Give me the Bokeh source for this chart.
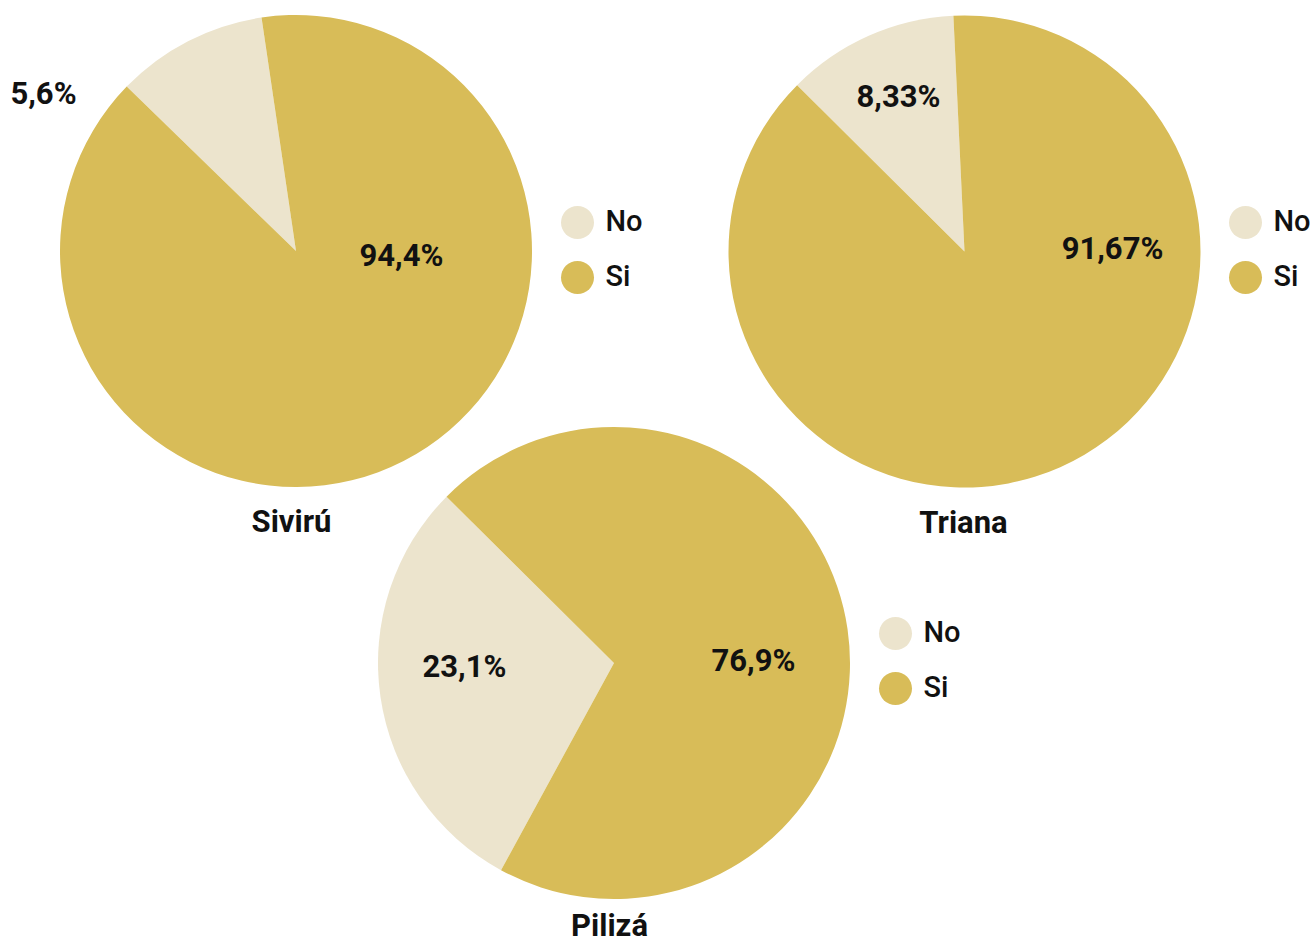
import math
from bokeh.plotting import figure
from bokeh.models import Range1d, ColumnDataSource
from bokeh.core.properties import value
from bokeh.embed import file_html
from bokeh.resources import INLINE

# ---- data ----
pies = ["Sivirú", "Triana", "Pilizá"]
categories = ["No", "Si"]
# slice shares as drawn (percent of circle)
share_no = [10.4, 11.8, 29.5]
share_si = [89.6, 88.2, 70.5]
# printed labels
label_no = ["5,6%", "8,33%", "23,1%"]
label_si = ["94,4%", "91,67%", "76,9%"]

# ---- layout / style ----
W, H = 1312, 945
colors = {"No": "#ECE4CD", "Si": "#D8BC58"}
centers = [(295.5, 250.5), (964.0, 251.0), (613.5, 662.5)]  # pixel coords
radius = 236
no_start_deg = [98.4, 92.7, 135.2]  # anticlockwise start of the "No" slice
no_label_pos = [(43, 93), (898, 96), (464, 666)]
si_label_pos = [(401, 255), (1112, 248), (753, 660)]
title_pos = [(291, 521), (963, 522), (609, 925)]
legend_pos = [(577, 222), (1245, 222), (895, 633)]
legend_gap = 55

def fy(py):
    return H - py

p = figure(width=W, height=H, x_range=Range1d(0, W), y_range=Range1d(0, H),
           output_backend="svg", toolbar_location=None, min_border=0)
p.axis.visible = False
p.grid.visible = False
p.outline_line_color = None
p.background_fill_color = "white"
p.border_fill_color = "white"

FONT = value("Roboto")
FONT_MED = value("Roboto Medium, Roboto")

for i, name in enumerate(pies):
    cx, cy = centers[i]
    s0 = math.radians(no_start_deg[i])
    s1 = s0 + 2 * math.pi * share_no[i] / 100.0
    s2 = s1 + 2 * math.pi * share_si[i] / 100.0
    src = ColumnDataSource(dict(x=[cx, cx], y=[fy(cy), fy(cy)],
                                start=[s0, s1], end=[s1, s2],
                                color=[colors["No"], colors["Si"]]))
    p.wedge(x="x", y="y", radius=radius, start_angle="start", end_angle="end",
            fill_color="color", line_color=None, source=src)

    # value labels
    lx, ly = no_label_pos[i]
    sx, sy = si_label_pos[i]
    p.text(x=[lx, sx], y=[fy(ly), fy(sy)], text=[label_no[i], label_si[i]],
           text_font=FONT, text_font_style="bold", text_font_size="31px",
           text_align="center", text_baseline="middle", text_color="#111111")

    # title
    tx, ty = title_pos[i]
    p.text(x=[tx], y=[fy(ty)], text=[name], text_font=FONT, text_font_style="bold",
           text_font_size="31px", text_align="center", text_baseline="middle",
           text_color="#111111")

    # legend
    gx, gy = legend_pos[i]
    ys = [gy + k * legend_gap for k in range(len(categories))]
    p.scatter(x=[gx] * len(categories), y=[fy(v) for v in ys], size=33,
              fill_color=[colors[c] for c in categories], line_color=None)
    p.text(x=[gx + 28] * len(categories), y=[fy(v - 2) for v in ys], text=categories,
           text_font=FONT_MED, text_font_size="29px", text_align="left",
           text_baseline="middle", text_color="#111111")

open("out.html", "w").write(file_html(p, INLINE))
